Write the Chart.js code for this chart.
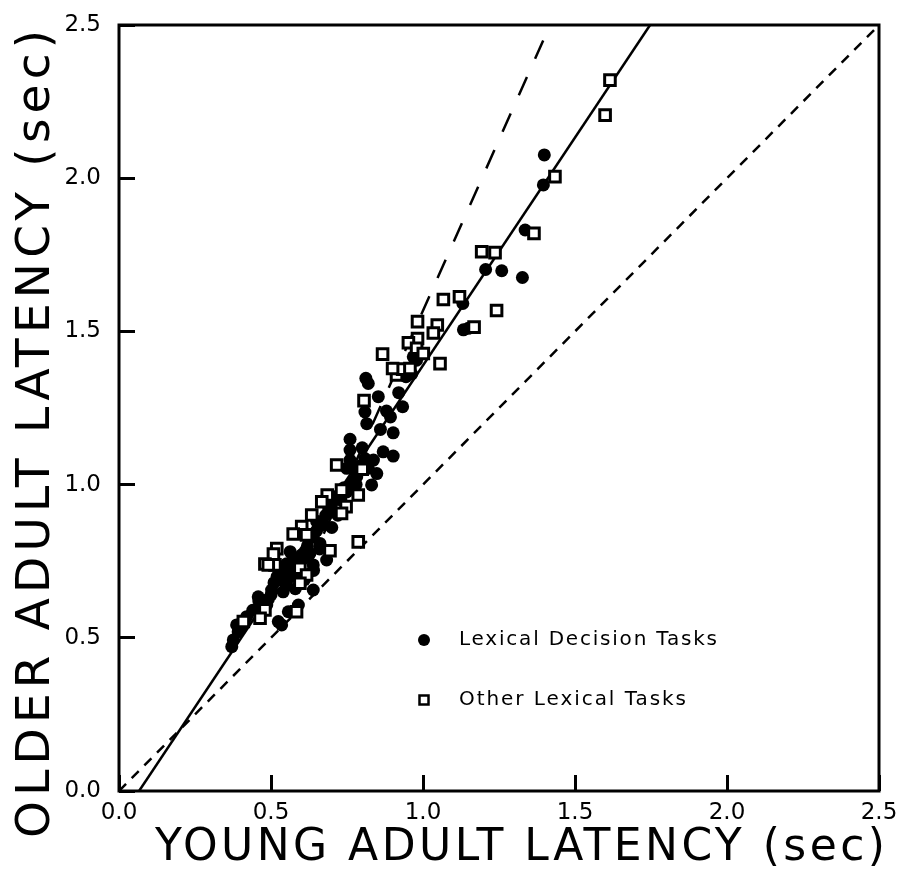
<!DOCTYPE html>
<html lang="en">
<head>
<meta charset="UTF-8">
<title>Older vs young adult latency</title>
<script src="https://cdn.jsdelivr.net/npm/chart.js"></script>
<style>
    html, body { margin: 0; padding: 0; background: #fff; }
    #wrap { width: 898px; height: 878px; position: relative; }
</style>
</head>
<body>
<div id="wrap"><canvas id="chart"></canvas></div>
<script>
// axis ticks (sec)
const tickValues = [0, 0.5, 1.0, 1.5, 2.0, 2.5];

// Lexical decision tasks (filled circles)
const lexDecX = [1.399, 1.396, 1.336, 1.206, 1.259, 1.327, 1.131, 1.133, 1.149, 0.968, 0.979, 0.944, 0.963,
    0.812, 0.820, 0.853, 0.809, 0.815, 0.933, 0.893, 0.902, 0.760, 0.760, 0.869, 0.902, 0.809, 0.837,
    0.749, 0.776, 0.820, 0.848, 0.782, 0.831, 0.749, 0.700, 0.672, 0.639, 0.661, 0.563, 0.628, 0.683,
    0.552, 0.595, 0.540, 0.639, 0.563, 0.530, 0.639, 0.502, 0.540, 0.458, 0.491, 0.590, 0.557, 0.524,
    0.535, 0.486, 0.420, 0.387, 0.392, 0.376, 0.371, 0.580, 0.610, 0.660, 0.700, 0.720, 0.680, 0.520,
    0.550, 0.600, 0.640, 0.470, 0.440, 0.780, 0.730, 0.570, 0.620, 0.650, 0.510, 0.760, 0.800,
    0.600, 0.560, 0.530, 0.620, 0.650, 0.690, 0.710, 0.740, 0.770, 0.790, 0.500, 0.460, 0.400,
    0.580, 0.610, 0.860, 0.880, 0.920];
const lexDecY = [2.076, 1.978, 1.831, 1.702, 1.698, 1.676, 1.591, 1.505, 1.510, 1.417, 1.406, 1.352, 1.361,
    1.347, 1.330, 1.287, 1.237, 1.199, 1.254, 1.221, 1.169, 1.148, 1.113, 1.107, 1.093, 1.085, 1.080,
    1.053, 1.058, 1.053, 1.036, 1.026, 0.999, 0.976, 0.938, 0.868, 0.830, 0.808, 0.781, 0.776, 0.754,
    0.742, 0.745, 0.732, 0.738, 0.699, 0.689, 0.656, 0.656, 0.650, 0.634, 0.626, 0.607, 0.585, 0.553,
    0.542, 0.607, 0.569, 0.542, 0.520, 0.493, 0.471, 0.720, 0.760, 0.790, 0.860, 0.900, 0.900, 0.700,
    0.670, 0.700, 0.720, 0.610, 0.590, 1.000, 0.950, 0.750, 0.800, 0.850, 0.680, 1.080, 1.120,
    0.770, 0.720, 0.710, 0.830, 0.880, 0.920, 0.960, 0.990, 1.010, 1.060, 0.640, 0.620, 0.530,
    0.660, 0.690, 1.180, 1.240, 1.300];

// Other lexical tasks (open squares)
const otherX = [1.615, 1.599, 1.434, 1.365, 1.193, 1.237, 1.242, 1.067, 1.120, 1.168, 0.982, 1.047, 1.034,
    0.982, 0.952, 0.867, 0.979, 1.001, 1.056, 0.913, 0.933, 0.957, 0.900, 0.806, 0.716, 0.732, 0.787,
    0.685, 0.667, 0.747, 0.732, 0.634, 0.601, 0.573, 0.617, 0.787, 0.694, 0.519, 0.508, 0.480, 0.513,
    0.491, 0.595, 0.617, 0.595, 0.584, 0.480, 0.464, 0.409, 0.800];
const otherY = [2.320, 2.206, 2.005, 1.820, 1.760, 1.757, 1.568, 1.604, 1.613, 1.514, 1.532, 1.521, 1.495,
    1.477, 1.463, 1.426, 1.445, 1.428, 1.395, 1.358, 1.377, 1.379, 1.379, 1.274, 1.064, 0.982, 0.966,
    0.966, 0.944, 0.928, 0.906, 0.901, 0.863, 0.839, 0.836, 0.813, 0.784, 0.791, 0.773, 0.741, 0.738,
    0.738, 0.727, 0.705, 0.678, 0.585, 0.591, 0.564, 0.553, 1.050];

// reference lines
const identityX = [0, 2.5];
const identityY = [0, 2.5];
const fitX = [0.066, 1.747];
const fitY = [0, 2.5];
const steepX = [0.62, 1.418];
const steepY = [0.72, 2.5];

const legendLabels = ['Lexical Decision Tasks', 'Other Lexical Tasks'];
const xTitle = 'YOUNG ADULT LATENCY (sec)';
const yTitle = 'OLDER ADULT LATENCY (sec)';

const FONT = "'DejaVu Sans', sans-serif";
Chart.defaults.font.family = FONT;
Chart.defaults.color = '#000';

function pts(xs, ys) {
    return xs.map((x, i) => ({ x: x, y: ys[i] }));
}

const framePlugin = {
    id: 'frame',
    afterDraw(chart) {
        const ctx = chart.ctx;
        const a = chart.chartArea;
        ctx.save();
        ctx.setLineDash([]);
        ctx.fillStyle = '#000';
        ctx.strokeStyle = '#000';
        ctx.lineWidth = 3;
        ctx.strokeRect(a.left, a.top, a.right - a.left, a.bottom - a.top);

        // legend
        const lx = a.left + 305;
        ctx.beginPath();
        ctx.arc(lx, a.top + 615, 6, 0, Math.PI * 2);
        ctx.fill();
        ctx.lineWidth = 2.5;
        ctx.fillStyle = '#fff';
        ctx.fillRect(lx - 4.5, a.top + 670.5, 9, 9);
        ctx.strokeRect(lx - 4.5, a.top + 670.5, 9, 9);
        ctx.restore();

        fitText(ctx, legendLabels[0], 20, 258, lx + 35, a.top + 615, 0, 'left');
        fitText(ctx, legendLabels[1], 20, 227, lx + 35, a.top + 675, 0, 'left');

        // axis titles
        fitText(ctx, xTitle, 44, 730, 520, 849, 0, 'center');
        fitText(ctx, yTitle, 47, 808, 37, 434, -Math.PI / 2, 'center');
    }
};

// draws text stretched by letter spacing to a target width
function fitText(ctx, text, size, target, x, y, rot, align) {
    ctx.save();
    ctx.font = size + 'px ' + FONT;
    ctx.letterSpacing = '0px';
    const w = ctx.measureText(text).width;
    const ls = Math.max(0, (target - w) / (text.length - 1));
    ctx.letterSpacing = ls + 'px';
    ctx.translate(x, y);
    ctx.rotate(rot);
    ctx.textAlign = 'left';
    ctx.textBaseline = 'middle';
    ctx.fillStyle = '#000';
    ctx.fillText(text, align === 'center' ? -target / 2 : 0, 0);
    ctx.restore();
}

// negative tick length turns the library's tick marks inward
const axisGrid = {
    display: true,
    drawOnChartArea: false,
    drawTicks: true,
    tickLength: -16,
    color: '#000',
    lineWidth: 3
};

new Chart(document.getElementById('chart'), {
    type: 'scatter',
    data: {
        datasets: [
            {
                label: 'identity',
                data: pts(identityX, identityY),
                showLine: true,
                borderColor: '#000',
                borderWidth: 2.5,
                borderDash: [10, 8],
                pointRadius: 0,
                order: 5
            },
            {
                label: 'fit',
                data: pts(fitX, fitY),
                showLine: true,
                borderColor: '#000',
                borderWidth: 2.5,
                pointRadius: 0,
                order: 4
            },
            {
                label: 'steep',
                data: pts(steepX, steepY),
                showLine: true,
                borderColor: '#000',
                borderWidth: 2.5,
                borderDash: [20, 20],
                pointRadius: 0,
                order: 3
            },
            {
                label: legendLabels[0],
                data: pts(lexDecX, lexDecY),
                pointStyle: 'circle',
                pointRadius: 6.5,
                backgroundColor: '#000',
                borderColor: '#000',
                borderWidth: 0,
                order: 2
            },
            {
                label: legendLabels[1],
                data: pts(otherX, otherY),
                pointStyle: 'rect',
                pointRadius: 7.5,
                backgroundColor: '#fff',
                borderColor: '#000',
                borderWidth: 3,
                order: 1
            }
        ]
    },
    options: {
        responsive: true,
        maintainAspectRatio: false,
        animation: false,
        layout: { padding: { top: 25, right: 19, left: 0, bottom: 0 } },
        plugins: {
            legend: { display: false },
            tooltip: { enabled: false }
        },
        scales: {
            x: {
                type: 'linear',
                position: 'bottom',
                min: 0,
                max: 2.5,
                grid: axisGrid,
                border: { display: false },
                ticks: {
                    stepSize: 0.5,
                    padding: 24,
                    maxRotation: 0,
                    color: '#000',
                    font: { family: FONT, size: 23 },
                    callback: v => v.toFixed(1)
                },
                afterFit: s => {
                    s.height = 87;
                    s.paddingLeft = 0;
                    s.paddingRight = 0;
                }
            },
            y: {
                type: 'linear',
                position: 'left',
                min: 0,
                max: 2.5,
                grid: axisGrid,
                border: { display: false },
                ticks: {
                    stepSize: 0.5,
                    padding: 34,
                    color: '#000',
                    font: { family: FONT, size: 23 },
                    callback: v => v.toFixed(1)
                },
                afterFit: s => {
                    s.width = 119;
                    s.paddingTop = 0;
                    s.paddingBottom = 0;
                }
            }
        }
    },
    plugins: [framePlugin]
});
</script>
</body>
</html>
